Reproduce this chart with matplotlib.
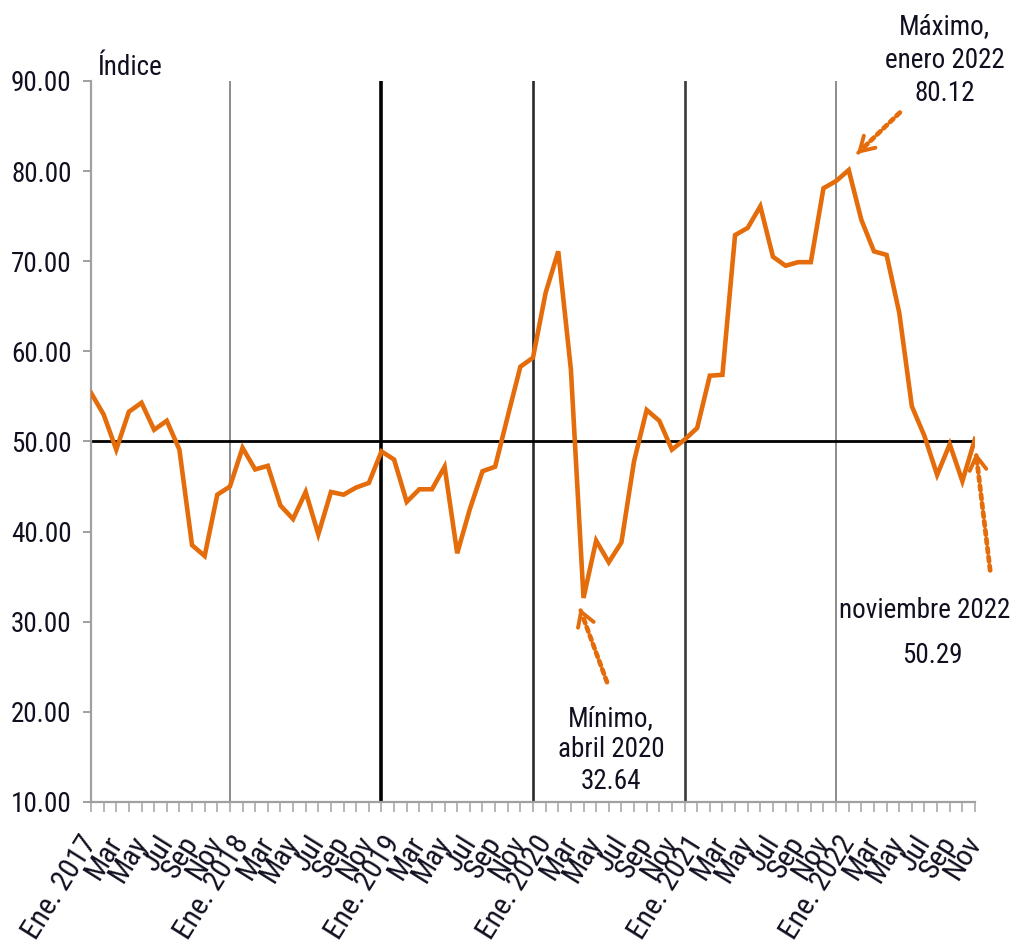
import matplotlib
matplotlib.use("Agg")
import matplotlib.pyplot as plt
from matplotlib import font_manager as fm

# Monthly index, Jan 2017 - Nov 2022
months_es = ["Ene.", "Feb", "Mar", "Abr", "May", "Jun",
             "Jul", "Ago", "Sep", "Oct", "Nov", "Dic"]
years = [2017, 2018, 2019, 2020, 2021, 2022]

values_2017 = [55.4, 53.0, 49.1, 53.3, 54.3, 51.3, 52.3, 49.1, 38.5, 37.3, 44.1, 45.0]
values_2018 = [49.3, 46.9, 47.3, 42.9, 41.4, 44.4, 39.7, 44.4, 44.1, 44.9, 45.4, 48.9]
values_2019 = [48.0, 43.3, 44.7, 44.7, 47.2, 37.6, 42.5, 46.7, 47.2, 52.8, 58.3, 59.3]
values_2020 = [66.5, 71.1, 58.0, 32.64, 39.0, 36.6, 38.8, 47.8, 53.5, 52.3, 49.1, 50.2]
values_2021 = [51.5, 57.3, 57.4, 72.9, 73.7, 76.1, 70.5, 69.5, 69.9, 69.9, 78.1, 78.9]
values_2022 = [80.12, 74.6, 71.1, 70.7, 64.3, 53.9, 50.6, 46.3, 49.7, 45.6, 50.29]

series = values_2017 + values_2018 + values_2019 + values_2020 + values_2021 + values_2022

tick_labels = []
for y in years:
    for m, name in enumerate(months_es):
        if len(tick_labels) == len(series):
            break
        if m == 0:
            tick_labels.append(f"Ene. {y}")
        elif m % 2 == 0:
            tick_labels.append(name)
        else:
            tick_labels.append("")

max_label = ("Máximo,", "enero 2022", 80.12)
min_label = ("Mínimo,", "abril 2020", 32.64)
last_label = ("noviembre 2022", 50.29)

ORANGE = "#E46C0A"
TXT = "#101020"


def narrow_font():
    """Return (family, stretch, size_scale) for a narrow sans face if available."""
    entries = fm.fontManager.ttflist
    names = {f.name for f in entries}
    for fam in ("Liberation Sans Narrow", "Arial Narrow", "Roboto Condensed",
                "Open Sans Condensed", "Noto Sans Condensed", "DejaVu Sans Condensed"):
        if fam in names:
            return fam, "normal", 1.0
    for fam in ("Noto Sans", "Roboto", "Open Sans", "DejaVu Sans"):
        for f in entries:
            if (f.name == fam and f.style == "normal"
                    and str(f.stretch) in ("condensed", "semi-condensed")):
                return fam, str(f.stretch), 1.0
    return "Liberation Sans", "normal", 0.88


FAMILY, STRETCH, SCALE = narrow_font()
plt.rcParams["font.family"] = [FAMILY, "DejaVu Sans"]
plt.rcParams["font.stretch"] = STRETCH

FS = 19.5 * SCALE

fig = plt.figure(figsize=(10.28, 9.51), dpi=100)
ax = fig.add_axes([91 / 1028, 1 - 802 / 951, (975 - 91) / 1028, (802 - 81) / 951])

x = list(range(len(series)))
ax.set_xlim(0, len(series) - 1)
ax.set_ylim(10, 90)

# year separators (December of each year)
sep_styles = {11: ("#8c8c8c", 1.4), 23: ("#000000", 2.6), 35: ("#2a2a2a", 1.9),
              47: ("#3a3a3a", 1.9), 59: ("#8c8c8c", 1.4)}
for xi, (c, w) in sep_styles.items():
    ax.axvline(xi, color=c, lw=w, zorder=1)

ax.axhline(50, color="black", lw=2.0, zorder=2)
ax.plot(x, series, color=ORANGE, lw=3.3, solid_joinstyle="miter", zorder=3)

# axes styling
for s in ("top", "right"):
    ax.spines[s].set_visible(False)
for s in ("left", "bottom"):
    ax.spines[s].set_color("#a0a0a0")
    ax.spines[s].set_linewidth(1.6)

ax.set_yticks(range(10, 91, 10))
ax.set_yticklabels([f"{v:.2f}" for v in range(10, 91, 10)])
ax.tick_params(axis="y", direction="out", length=6, width=1.4, color="#a0a0a0",
               labelsize=FS, labelcolor=TXT, pad=8)

ax.set_xticks(x)
ax.set_xticklabels(tick_labels, rotation=58, ha="right", va="center",
                   rotation_mode="anchor")
ax.tick_params(axis="x", direction="out", length=7, width=1.3, color="#b0b0b0",
               labelsize=FS * 1.1, labelcolor=TXT, pad=19)

ax.text(0.5, 90.7, "Índice", fontsize=FS, color=TXT, ha="left", va="baseline",
        clip_on=False)


def dotted_arrow(tail, tip):
    ax.annotate("", xy=tip, xytext=tail, annotation_clip=False,
                arrowprops=dict(arrowstyle="-", color=ORANGE, lw=3.4,
                                linestyle=(0, (1.0, 0.9)),
                                shrinkA=0, shrinkB=7))
    dx, dy = tip[0] - tail[0], tip[1] - tail[1]
    back = (tip[0] - 0.03 * dx, tip[1] - 0.03 * dy)
    ax.annotate("", xy=tip, xytext=back, annotation_clip=False,
                arrowprops=dict(arrowstyle="->,head_length=1.0,head_width=0.6",
                                color=ORANGE, lw=2.8, shrinkA=0, shrinkB=0))


# maximum
i_max = series.index(max_label[2])
ax.text(67.6, 92.3, f"{max_label[0]}\n{max_label[1]}\n{max_label[2]:.2f}",
        fontsize=FS, color=TXT, ha="center", va="center", linespacing=1.3,
        clip_on=False)
dotted_arrow((i_max + 4.05, 86.5), (i_max + 0.65, 81.9))

# minimum
i_min = series.index(min_label[2])
ax.text(41.2, 15.8, f"{min_label[0]}\n{min_label[1]}\n{min_label[2]:.2f}",
        fontsize=FS, color=TXT, ha="center", va="center", linespacing=1.22)
dotted_arrow((i_min + 1.86, 23.3), (i_min - 0.3, 31.5))

# latest value
i_last = len(series) - 1
ax.text(66.0, 31.2, last_label[0], fontsize=FS, color=TXT,
        ha="center", va="center")
ax.text(66.6, 26.3, f"{last_label[1]:.2f}", fontsize=FS, color=TXT,
        ha="center", va="center")
dotted_arrow((i_last + 1.2, 35.7), (i_last + 0.07, 48.8))

fig.savefig("out.png", dpi=100, facecolor="white")
